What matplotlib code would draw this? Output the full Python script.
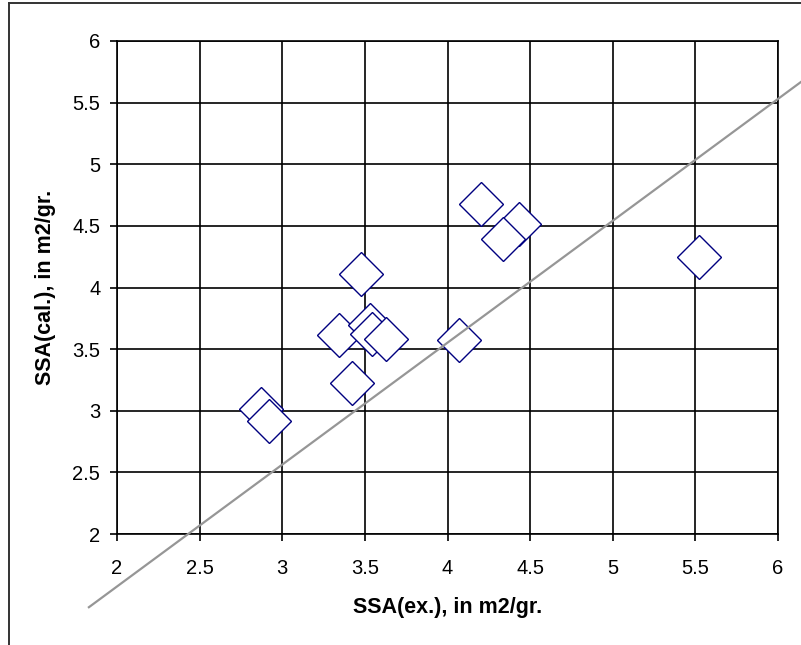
import numpy as np
import matplotlib
matplotlib.use('Agg')
import matplotlib.pyplot as plt
from matplotlib.lines import Line2D

plt.rcParams['font.family'] = ['Liberation Sans', 'DejaVu Sans']

# measured vs calculated specific surface area
ssa_ex = [3.475, 3.343, 3.531, 3.545, 3.628, 3.424, 4.072,
          2.870, 2.922, 4.201, 4.433, 4.334, 5.524]
ssa_cal = [4.107, 3.612, 3.695, 3.625, 3.582, 3.228, 3.572,
           3.014, 2.917, 4.675, 4.515, 4.391, 4.250]

# grey reference line (end points)
line_x = [1.83, 6.30]
line_y = [1.406, 5.827]

ticks = [2, 2.5, 3, 3.5, 4, 4.5, 5, 5.5, 6]
tick_labels = ['2', '2.5', '3', '3.5', '4', '4.5', '5', '5.5', '6']

fig = plt.figure(figsize=(8.01, 6.45), dpi=100)
ax = fig.add_axes([117 / 801, 111 / 645, 661 / 801, 493 / 645])

ax.plot(ssa_ex, ssa_cal, linestyle='none', marker='D', markersize=22.4,
        markerfacecolor='white', markeredgecolor='#000080',
        markeredgewidth=1.0, zorder=3)
ax.plot(line_x, line_y, color='#969696', linewidth=1.6, clip_on=False, zorder=4)

ax.set_xlim(2, 6)
ax.set_ylim(2, 6)
ax.set_xticks(ticks)
ax.set_yticks(ticks)
ax.set_xticklabels(tick_labels)
ax.set_yticklabels(tick_labels)
ax.grid(True, color='black', linewidth=1.2)
ax.set_axisbelow(True)
for s in ax.spines.values():
    s.set_color('black')
    s.set_linewidth(1.2)
ax.tick_params(direction='out', length=5, width=1.2, labelsize=14.5,
               colors='black')
ax.tick_params(axis='x', pad=13)
ax.tick_params(axis='y', pad=7)

ax.set_xlabel('SSA(ex.), in m2/gr.', fontsize=15.5, fontweight='bold')
ax.set_ylabel('SSA(cal.), in m2/gr.', fontsize=15.5, fontweight='bold')
ax.xaxis.set_label_coords(0.5, -0.128)
ax.yaxis.set_label_coords(-0.092, 0.5)

# outer chart frame (only left and top edges fall inside the image)
fig.add_artist(Line2D([9 / 801, 9 / 801], [0, 1 - 3 / 645], color='#333333',
                      linewidth=1.4, transform=fig.transFigure))
fig.add_artist(Line2D([9 / 801, 1], [1 - 3 / 645, 1 - 3 / 645], color='#333333',
                      linewidth=1.4, transform=fig.transFigure))

fig.savefig('out.png', dpi=100)
